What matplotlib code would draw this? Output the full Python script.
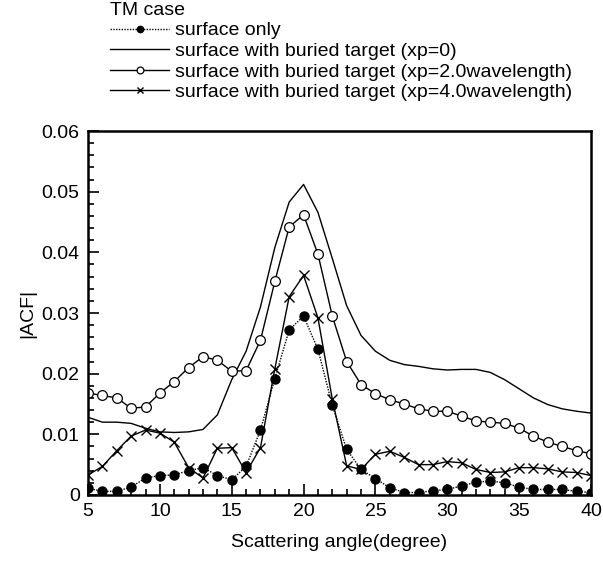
import numpy as np
import matplotlib
matplotlib.use("Agg")
import matplotlib.pyplot as plt
from matplotlib.ticker import MultipleLocator

plt.rcParams['font.family'] = ['Liberation Sans', 'DejaVu Sans']

angles = list(range(5, 41))

surface_only = [0.0011, 0.0006, 0.0006, 0.0013, 0.0028, 0.0032, 0.0033, 0.0040, 0.0045,
                0.0032, 0.0025, 0.0047, 0.0107, 0.0192, 0.0272, 0.0295, 0.0240, 0.0148,
                0.0075, 0.0042, 0.0027, 0.0012, 0.0004, 0.0004, 0.0007, 0.0009, 0.0015,
                0.0021, 0.0023, 0.0020, 0.0013, 0.0009, 0.0009, 0.0009, 0.0006, 0.0004]

target_xp0 = [0.0128, 0.0120, 0.0120, 0.0118, 0.0110, 0.0104, 0.0103, 0.0104, 0.0108,
              0.0132, 0.0190, 0.0237, 0.0310, 0.0408, 0.0483, 0.0512, 0.0466, 0.0390,
              0.0312, 0.0263, 0.0237, 0.0222, 0.0215, 0.0212, 0.0208, 0.0206, 0.0207,
              0.0207, 0.0202, 0.0190, 0.0175, 0.0160, 0.0149, 0.0142, 0.0138, 0.0135]

target_xp2 = [0.0168, 0.0164, 0.0160, 0.0143, 0.0145, 0.0168, 0.0187, 0.0210, 0.0228,
              0.0222, 0.0204, 0.0205, 0.0255, 0.0352, 0.0442, 0.0462, 0.0397, 0.0295,
              0.0220, 0.0182, 0.0167, 0.0157, 0.0150, 0.0142, 0.0138, 0.0138, 0.0130,
              0.0122, 0.0120, 0.0118, 0.0110, 0.0097, 0.0087, 0.0080, 0.0073, 0.0068]

target_xp4 = [0.0033, 0.0047, 0.0073, 0.0097, 0.0107, 0.0102, 0.0087, 0.0045, 0.0028,
              0.0077, 0.0078, 0.0037, 0.0078, 0.0208, 0.0327, 0.0362, 0.0292, 0.0158,
              0.0048, 0.0042, 0.0067, 0.0072, 0.0062, 0.0050, 0.0050, 0.0055, 0.0053,
              0.0042, 0.0037, 0.0038, 0.0045, 0.0045, 0.0043, 0.0038, 0.0037, 0.0032]

labels = ["surface only",
          "surface with buried target (xp=0)",
          "surface with buried target (xp=2.0wavelength)",
          "surface with buried target (xp=4.0wavelength)"]

fig = plt.figure(figsize=(6.03, 5.65), dpi=100)
ax = fig.add_axes([0.146, 0.124, 0.834, 0.644])

fs = 14
l1, = ax.plot(angles, surface_only, linestyle=(0, (1, 1)), color='black', lw=1.0,
              marker='o', ms=6.5, mfc='black', mec='black', zorder=3)
l2, = ax.plot(angles, target_xp0, linestyle='-', color='black', lw=1.0)
l3, = ax.plot(angles, target_xp2, linestyle='-', color='black', lw=1.0,
              marker='o', ms=7, mfc='white', mec='black', mew=0.9)
l4, = ax.plot(angles, target_xp4, linestyle='-', color='black', lw=1.0,
              marker='x', ms=7, mec='black', mew=1.0)

ax.set_xlim(5, 40)
ax.set_ylim(0, 0.06)
ax.xaxis.set_major_locator(MultipleLocator(5))
ax.xaxis.set_minor_locator(MultipleLocator(1))
ax.yaxis.set_major_locator(MultipleLocator(0.01))
ax.yaxis.set_minor_locator(MultipleLocator(0.002))
ax.tick_params(which='both', direction='in', top=False, right=False, labelsize=fs, width=1.2)
ax.tick_params(which='major', length=8, pad=6)
ax.tick_params(which='minor', length=4.5)
ax.set_yticks([0, 0.01, 0.02, 0.03, 0.04, 0.05, 0.06])
ax.set_yticklabels(['0', '0.01', '0.02', '0.03', '0.04', '0.05', '0.06'])
for s in ax.spines.values():
    s.set_linewidth(1.8)

ax.set_xlabel("Scattering angle(degree)", fontsize=fs, labelpad=10)
ax.set_ylabel("|ACF|", fontsize=fs, labelpad=4)

leg = fig.legend([l1, l2, l3, l4], labels, title="TM case", loc='upper left',
                 bbox_to_anchor=(0.18, 1.0), frameon=False, fontsize=fs,
                 title_fontsize=fs, alignment='left', handlelength=3.0,
                 handletextpad=0.3, labelspacing=0.15, borderpad=0.1,
                 borderaxespad=0, numpoints=1, markerscale=0.7)

fig.savefig("out.png", dpi=100)
